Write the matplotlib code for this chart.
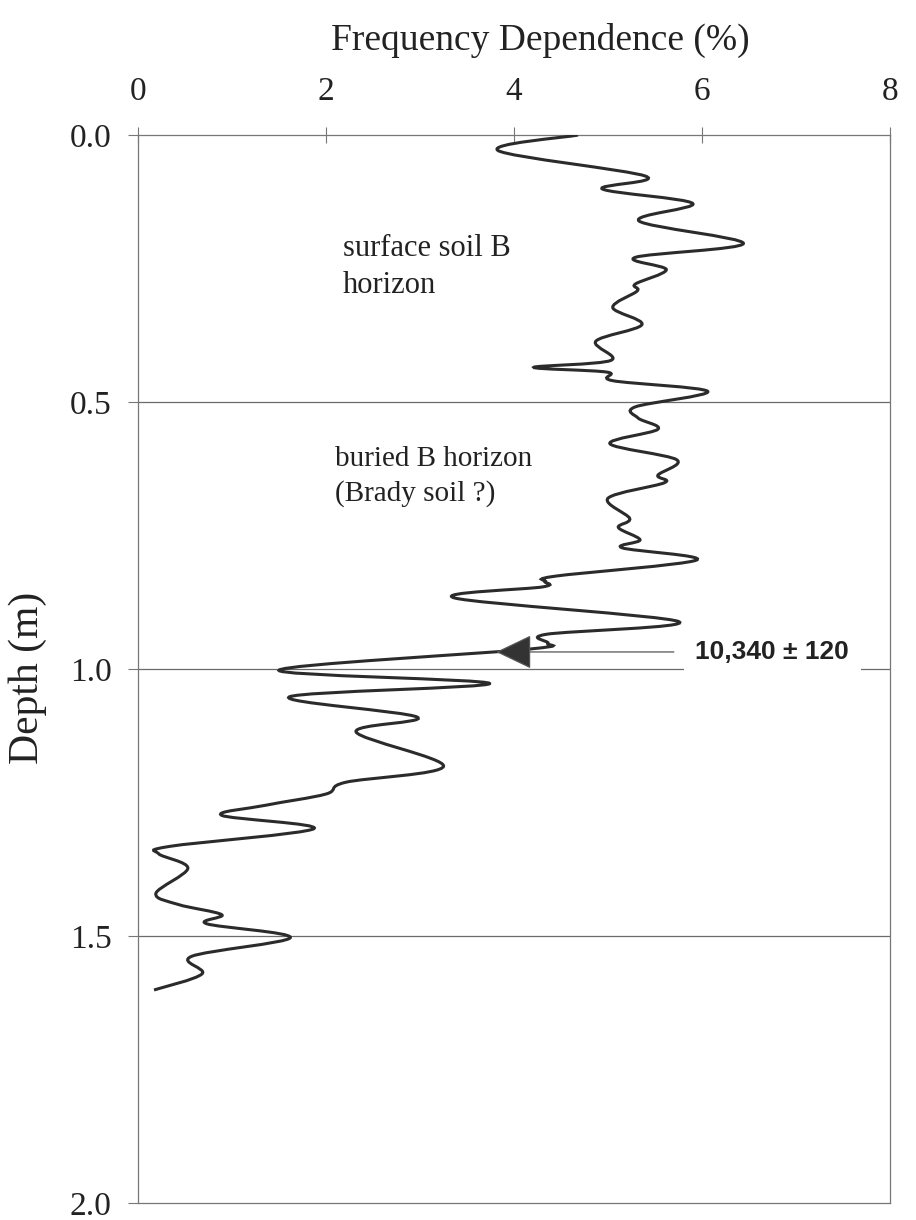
import numpy as np
import matplotlib
matplotlib.use("Agg")
import matplotlib.pyplot as plt
from matplotlib.path import Path
from matplotlib.patches import PathPatch

# frequency dependence (%) vs depth (m)
freq_dep = [4.68, 3.83, 5.40, 4.94, 5.90, 5.33, 6.44, 5.29, 5.62, 5.29,
            5.31, 5.05, 5.36, 4.87, 5.03, 4.21, 4.99, 5.05, 6.06, 5.29,
            5.32, 5.53, 5.02, 5.73, 5.53, 5.60, 5.00, 5.23, 5.11, 5.34,
            5.15, 5.94, 4.44, 4.33, 4.31, 3.37, 5.75, 4.34, 4.36, 4.14,
            1.50, 3.74, 1.61, 2.97, 2.32, 3.25, 2.21, 2.00, 1.36, 0.89,
            1.87, 0.34, 0.22, 0.53, 0.19, 0.43, 0.89, 0.73, 1.62, 0.57,
            0.68, 0.17]
depth = [0.000, 0.029, 0.077, 0.101, 0.128, 0.161, 0.203, 0.229, 0.252, 0.279,
         0.292, 0.323, 0.355, 0.386, 0.422, 0.435, 0.444, 0.460, 0.480, 0.509,
         0.530, 0.551, 0.578, 0.608, 0.637, 0.651, 0.680, 0.718, 0.735, 0.758,
         0.773, 0.796, 0.826, 0.836, 0.846, 0.867, 0.911, 0.935, 0.952, 0.963,
         1.002, 1.027, 1.052, 1.090, 1.118, 1.182, 1.212, 1.234, 1.255, 1.274,
         1.299, 1.332, 1.346, 1.373, 1.420, 1.441, 1.460, 1.477, 1.503, 1.538,
         1.571, 1.601]

x_ticks = [0, 2, 4, 6, 8]
y_ticks = [0.0, 0.5, 1.0, 1.5, 2.0]
y_ticklabels = ["0.0", "0.5", "1.0", "1.5", "2.0"]
grid_depths = [0.5, 1.0, 1.5]

date_label = "10,340 \u00b1 120"
date_depth = 0.968
arrow_from = 5.70
arrow_to = 3.81

serif = "Liberation Serif"
sans = "Liberation Sans"

fig = plt.figure(figsize=(9.16, 12.2), dpi=100)
ax = fig.add_axes([0.1507, 0.0139, 0.821, 0.8754])

ax.set_xlim(0, 8)
ax.set_ylim(2.0, 0.0)

# smoothed line (like a spreadsheet "smoothed line"), catmull-rom -> bezier
pts = np.column_stack([freq_dep, depth])
n = len(pts)
verts = [pts[0]]
codes = [Path.MOVETO]
for i in range(n - 1):
    p0 = pts[max(i - 1, 0)]
    p1 = pts[i]
    p2 = pts[i + 1]
    p3 = pts[min(i + 2, n - 1)]
    verts += [p1 + (p2 - p0) / 6.0, p2 - (p3 - p1) / 6.0, p2]
    codes += [Path.CURVE4] * 3
curve = PathPatch(Path(verts, codes), facecolor="none", edgecolor="#2b2b2b",
                  lw=2.2, zorder=3)
ax.add_patch(curve)

for d in grid_depths:
    ax.axhline(d, color="#6a6a6a", lw=0.9, zorder=1)

for s in ax.spines.values():
    s.set_color("#777777")
    s.set_linewidth(0.9)

ax.xaxis.tick_top()
ax.set_xticks(x_ticks)
ax.set_xticklabels([str(v) for v in x_ticks], family=serif, fontsize=24)
ax.tick_params(axis="x", direction="inout", length=12, width=0.8,
               colors="#777777", labelcolor="#222222", pad=14)
ax.set_yticks(y_ticks)
ax.set_yticklabels(y_ticklabels, family=serif, fontsize=24)
ax.tick_params(axis="y", direction="out", length=7, width=0.8,
               colors="#777777", labelcolor="#222222", pad=12)

fig.text(540 / 916, 1 - 40 / 1220, "Frequency Dependence (%)", family=serif,
         fontsize=27, ha="center", va="center", color="#222222")
fig.text(28 / 916, 1 - 678 / 1220, "Depth (m)", family=serif, fontsize=30,
         rotation=90, ha="center", va="center", color="#222222")

ax.text(2.18, 0.185, "surface soil B\nhorizon", family=serif, fontsize=22,
        ha="left", va="top", linespacing=1.35, color="#222222")
ax.text(2.09, 0.583, "buried B horizon\n(Brady soil ?)", family=serif,
        fontsize=21, ha="left", va="top", linespacing=1.35, color="#222222")

ax.annotate("", xy=(arrow_to, date_depth), xytext=(arrow_from, date_depth),
            arrowprops=dict(arrowstyle="-|>,head_length=1.15,head_width=0.55",
                            mutation_scale=20, color="#555555", lw=0.9,
                            fc="#333333", shrinkA=0, shrinkB=0), zorder=4)
ax.text(5.93, date_depth, date_label, family=sans, fontweight="bold",
        fontsize=19, ha="left", va="center", color="#222222", zorder=5,
        bbox=dict(boxstyle="square,pad=0.45", fc="white", ec="none"))

fig.savefig("out.png", dpi=100)
